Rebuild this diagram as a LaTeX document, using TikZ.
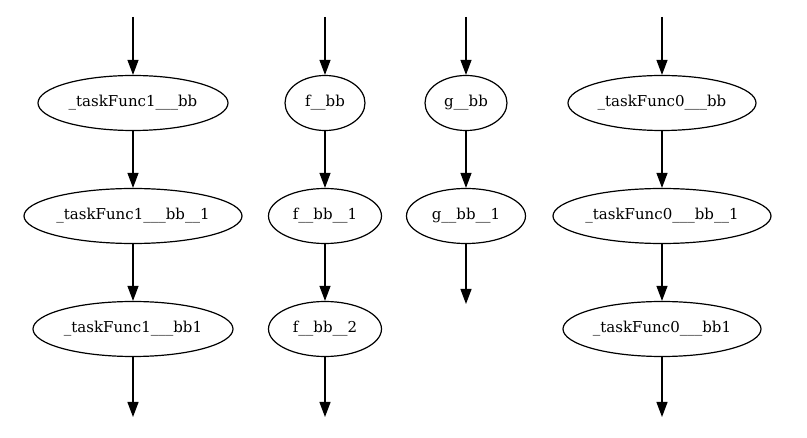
\documentclass[tikz,border=0pt]{standalone}
\usepackage{fontspec}
\setmainfont{DejaVu Serif}
\usetikzlibrary{shapes.geometric,arrows.meta}
\tikzset{
  bb/.style={ellipse,draw,line width=1.2pt,minimum height=55pt,inner sep=0pt,font=\fontsize{15}{17}\selectfont},
  edge/.style={-{Triangle[length=15pt,width=11pt]},line width=1.2pt}
}
\begin{document}
\begin{tikzpicture}[x=1pt,y=-1pt]
\useasboundingbox (0,0) rectangle (807,438);
% column 1
\coordinate (t1) at (133,17);
\node[bb,minimum width=190pt] (a1) at (133,103) {\_taskFunc1\_\_\_bb};
\node[bb,minimum width=218pt] (a2) at (133,216) {\_taskFunc1\_\_\_bb\_\_1};
\node[bb,minimum width=200pt] (a3) at (133,329) {\_taskFunc1\_\_\_bb1};
\coordinate (e1) at (133,417);
% column 2
\coordinate (t2) at (325,17);
\node[bb,minimum width=80pt] (b1) at (325,103) {f\_\_bb};
\node[bb,minimum width=113pt] (b2) at (325,216) {f\_\_bb\_\_1};
\node[bb,minimum width=113pt] (b3) at (325,329) {f\_\_bb\_\_2};
\coordinate (e2) at (325,417);
% column 3
\coordinate (t3) at (466,17);
\node[bb,minimum width=82pt] (g1) at (466,103) {g\_\_bb};
\node[bb,minimum width=119pt] (g2) at (466,216) {g\_\_bb\_\_1};
\coordinate (e3) at (466,304);
% column 4
\coordinate (t4) at (662,17);
\node[bb,minimum width=188pt] (d1) at (662,103) {\_taskFunc0\_\_\_bb};
\node[bb,minimum width=218pt] (d2) at (662,216) {\_taskFunc0\_\_\_bb\_\_1};
\node[bb,minimum width=198pt] (d3) at (662,329) {\_taskFunc0\_\_\_bb1};
\coordinate (e4) at (662,417);
% edges
\draw[edge] (t1) -- (a1);
\draw[edge] (a1) -- (a2);
\draw[edge] (a2) -- (a3);
\draw[edge] (a3) -- (e1);
\draw[edge] (t2) -- (b1);
\draw[edge] (b1) -- (b2);
\draw[edge] (b2) -- (b3);
\draw[edge] (b3) -- (e2);
\draw[edge] (t3) -- (g1);
\draw[edge] (g1) -- (g2);
\draw[edge] (g2) -- (e3);
\draw[edge] (t4) -- (d1);
\draw[edge] (d1) -- (d2);
\draw[edge] (d2) -- (d3);
\draw[edge] (d3) -- (e4);
\end{tikzpicture}
\end{document}
